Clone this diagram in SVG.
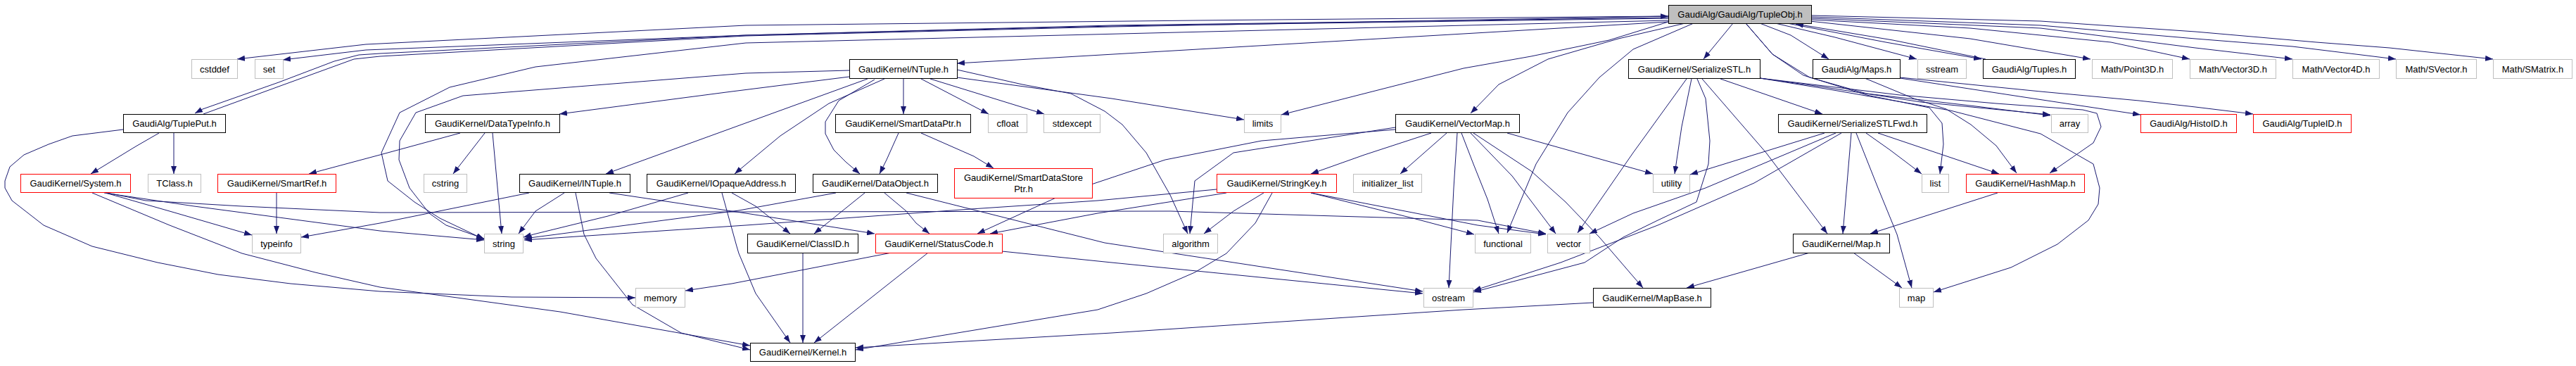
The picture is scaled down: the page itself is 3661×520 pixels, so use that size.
<svg xmlns="http://www.w3.org/2000/svg" width="3661" height="520" viewBox="0 0 3661 520">
<defs>
<marker id="a" viewBox="0 0 11 8" refX="11" refY="4" markerWidth="11" markerHeight="8" markerUnits="userSpaceOnUse" orient="auto"><path d="M0,0L11,4L0,8z" fill="#191970"/></marker>
<style>
.e{fill:none;stroke:#191970;stroke-width:1;marker-end:url(#a)}
.b{fill:#fff;stroke:#000;stroke-width:1}
.g{fill:#fff;stroke:#bfbfbf;stroke-width:1}
.r{fill:#fff;stroke:#f00;stroke-width:1}
.root{fill:#bfbfbf;stroke:#000;stroke-width:1}
text{font-family:"Liberation Sans",Arial,Helvetica,sans-serif;font-size:13px;text-anchor:middle;fill:#000}
</style>
</defs>
<rect x="0" y="0" width="3661" height="520" fill="#fff"/>
<g id="edges">
<path class="e" d="M2371,23 L1700,29 L1060,36 L520,63 L337,84"/>
<path class="e" d="M2371,25 L1580,36 L1060,50 L520,71 L402,85"/>
<path class="e" d="M2371,26 L1580,37 L1060,50 L540,76 L510,78 L475,87 L396,117 L288,155 L277,161"/>
<path class="e" d="M289,162 L393,124 L503,84 L540,80 L1060,51 L1580,38 L2371,23"/>
<path class="e" d="M2371,29 L1060,61 L761,95 L639,124 L568,160 L542,217 L551,257 L589,287 L625,310 L688,340"/>
<path class="e" d="M2371,31 L1360,90"/>
<path class="e" d="M2371,31 L2287,57 L2176,80 L2080,97 L1821,163"/>
<path class="e" d="M2395,33 L2300,55 L2200,84 L2130,120 L2090,161"/>
<path class="e" d="M2407,33 L2321,70 L2273,110 L2228,160 L2183,233 L2142,331"/>
<path class="e" d="M2463,33 L2421,84"/>
<path class="e" d="M2501,33 L2545,50 L2599,84"/>
<path class="e" d="M2523,33 L2608,53 L2724,84"/>
<path class="e" d="M2540,33 L2680,60 L2816,84"/>
<path class="e" d="M2822,84 L2690,57 L2552,34"/>
<path class="e" d="M2572,30 L2800,55 L2971,84"/>
<path class="e" d="M2574,28 L2800,40 L3000,60 L3112,84"/>
<path class="e" d="M2574,26 L2900,40 L3120,68 L3258,84"/>
<path class="e" d="M2574,24 L2900,36 L3120,55 L3258,66 L3405,84"/>
<path class="e" d="M2574,22 L2900,30 L3120,45 L3292,60 L3396,68 L3543,84"/>
<path class="e" d="M2481,33 L2519,77 L2563,107 L2653,135 L2742,153 L2760,175 L2762,205 L2757,247"/>
<path class="e" d="M2481,33 L2519,77 L2572,110 L2653,133 L2800,150 L2914,164"/>
<path class="e" d="M2501,111 L2587,123 L2730,145 L2914,163"/>
<path class="e" d="M2501,111 L2700,135 L2837,147 L2960,156 L2980,161 L2986,180 L2975,203 L2913,246"/>
<path class="e" d="M2501,111 L2600,127 L2772,157 L2900,190 L2975,233 L2984,267 L2982,290 L2968,313 L2924,347 L2858,380 L2748,415"/>
<path class="e" d="M2650,111 L2720,140 L2766,155 L2801,177 L2837,207 L2866,246"/>
<path class="e" d="M2700,111 L2870,137 L3042,163"/>
<path class="e" d="M2700,110 L2900,130 L3040,143 L3120,152 L3202,162"/>
<path class="e" d="M2445,112 L2590,162"/>
<path class="e" d="M2397,112 L2321,217 L2242,331"/>
<path class="e" d="M2404,112 L2390,180 L2380,247"/>
<path class="e" d="M2412,112 L2424,140 L2430,200 L2428,233 L2411,287 L2356,313 L2307,337 L2252,373 L2094,415"/>
<path class="e" d="M2419,112 L2510,217 L2597,332"/>
<path class="e" d="M2593,189 L2402,248"/>
<path class="e" d="M2609,189 L2424,267 L2321,303 L2259,332"/>
<path class="e" d="M2617,189 L2493,260 L2356,320 L2218,373 L2094,413"/>
<path class="e" d="M2631,189 L2619,332"/>
<path class="e" d="M2638,189 L2669,267 L2696,333 L2717,409"/>
<path class="e" d="M2652,189 L2686,213 L2731,247"/>
<path class="e" d="M2669,189 L2841,247"/>
<path class="e" d="M2839,274 L2658,332"/>
<path class="e" d="M2634,359 L2703,409"/>
<path class="e" d="M2572,359 L2397,409"/>
<path class="e" d="M2264,430 L2080,440 L1580,473 L1216,494"/>
<path class="e" d="M2034,189 L1939,220 L1863,247"/>
<path class="e" d="M2056,189 L1990,247"/>
<path class="e" d="M2071,189 L2066,267 L2059,409"/>
<path class="e" d="M2077,189 L2094,233 L2114,283 L2130,332"/>
<path class="e" d="M2090,189 L2149,250 L2211,332"/>
<path class="e" d="M2094,189 L2176,243 L2225,287 L2273,337 L2304,373 L2335,409"/>
<path class="e" d="M2142,189 L2349,247"/>
<path class="e" d="M1983,181 L1753,217 L1698,257 L1691,332"/>
<path class="e" d="M1983,184 L1793,200 L1656,227 L1518,273 L1389,332"/>
<path class="e" d="M1729,269 L1560,285 L1380,297 L1060,320 L745,341"/>
<path class="e" d="M1743,274 L1560,303 L1407,332"/>
<path class="e" d="M1796,274 L1753,300 L1711,332"/>
<path class="e" d="M1808,274 L1784,317 L1743,360 L1698,387 L1629,417 L1560,440 L1216,497"/>
<path class="e" d="M1863,274 L2100,320 L2197,333"/>
<path class="e" d="M1863,274 L2008,310 L2095,333"/>
<path class="e" d="M150,274 L241,300 L358,334"/>
<path class="e" d="M148,274 L276,293 L540,328 L688,341"/>
<path class="e" d="M152,274 L207,285 L344,293 L540,302 L1060,301 L1663,300 L2100,313 L2197,332"/>
<path class="e" d="M131,274 L241,320 L344,360 L448,387 L540,408 L796,443 L1066,491"/>
<path class="e" d="M226,189 L193,208 L129,247"/>
<path class="e" d="M247,189 L247,247"/>
<path class="e" d="M175,184 L103,193 L69,205 L34,220 L14,237 L7,257 L7,267 L17,285 L62,320 L131,350 L224,373 L310,390 L413,403 L540,414 L727,422 L903,423"/>
<path class="e" d="M654,189 L540,220 L439,247"/>
<path class="e" d="M393,274 L393,332"/>
<path class="e" d="M689,189 L644,247"/>
<path class="e" d="M700,189 L713,332"/>
<path class="e" d="M752,274 L540,317 L428,337"/>
<path class="e" d="M802,274 L761,300 L737,332"/>
<path class="e" d="M866,274 L1060,303 L1243,332"/>
<path class="e" d="M818,274 L830,333 L847,367 L899,433 L968,473 L1066,497"/>
<path class="e" d="M1207,100 L1060,104 L658,136 L591,160 L568,200 L567,227 L582,267 L610,303 L634,320 L688,339"/>
<path class="e" d="M1207,109 L1040,130 L795,162"/>
<path class="e" d="M1233,112 L1040,182 L861,247"/>
<path class="e" d="M1257,112 L1178,147 L1109,193 L1044,247"/>
<path class="e" d="M1284,112 L1284,162"/>
<path class="e" d="M1309,112 L1405,162"/>
<path class="e" d="M1322,112 L1484,162"/>
<path class="e" d="M1243,113 L1192,143 L1173,173 L1173,190 L1185,213 L1202,230 L1222,247"/>
<path class="e" d="M1360,110 L1580,140 L1768,170"/>
<path class="e" d="M1360,99 L1453,120 L1522,133 L1570,158 L1595,177 L1629,217 L1663,277 L1688,332"/>
<path class="e" d="M1277,189 L1260,227 L1250,247"/>
<path class="e" d="M1309,189 L1384,222 L1412,239"/>
<path class="e" d="M978,274 L864,307 L758,333 L744,337"/>
<path class="e" d="M1040,274 L1074,293 L1123,332"/>
<path class="e" d="M1026,274 L1047,350 L1050,360 L1074,417 L1123,487"/>
<path class="e" d="M1229,274 L1188,307 L1157,332"/>
<path class="e" d="M1257,274 L1288,300 L1302,317 L1321,332"/>
<path class="e" d="M1188,274 L1050,299 L745,339"/>
<path class="e" d="M1288,274 L1570,345 L2022,414"/>
<path class="e" d="M1141,359 L1141,487"/>
<path class="e" d="M1319,359 L1233,427 L1157,487"/>
<path class="e" d="M1424,357 L1580,373 L2022,417"/>
<path class="e" d="M1267,359 L1040,403 L974,413"/>
</g>
<g transform="translate(0.5,0.5)">
<g id="n_tupleobj"><rect class="root" x="2371" y="7" width="203" height="26"/><text x="2472.5" y="24.5">GaudiAlg/GaudiAlg/TupleObj.h</text></g>
<g id="n_cstddef"><rect class="g" x="272" y="84" width="65" height="27"/><text x="304.5" y="102">cstddef</text></g>
<g id="n_set"><rect class="g" x="362" y="84" width="40" height="27"/><text x="382" y="102">set</text></g>
<g id="n_ntuple"><rect class="b" x="1207" y="84" width="153" height="27"/><text x="1283.5" y="102">GaudiKernel/NTuple.h</text></g>
<g id="n_serializestl"><rect class="b" x="2314" y="84" width="187" height="27"/><text x="2407.5" y="102">GaudiKernel/SerializeSTL.h</text></g>
<g id="n_maps"><rect class="b" x="2576" y="84" width="124" height="27"/><text x="2638" y="102">GaudiAlg/Maps.h</text></g>
<g id="n_sstream"><rect class="g" x="2725" y="84" width="69" height="27"/><text x="2759.5" y="102">sstream</text></g>
<g id="n_tuples"><rect class="b" x="2818" y="84" width="131" height="27"/><text x="2883.5" y="102">GaudiAlg/Tuples.h</text></g>
<g id="n_point3d"><rect class="g" x="2973" y="84" width="114" height="27"/><text x="3030" y="102">Math/Point3D.h</text></g>
<g id="n_vector3d"><rect class="g" x="3112" y="84" width="122" height="27"/><text x="3173" y="102">Math/Vector3D.h</text></g>
<g id="n_vector4d"><rect class="g" x="3258" y="84" width="123" height="27"/><text x="3319.5" y="102">Math/Vector4D.h</text></g>
<g id="n_svector"><rect class="g" x="3405" y="84" width="114" height="27"/><text x="3462" y="102">Math/SVector.h</text></g>
<g id="n_smatrix"><rect class="g" x="3543" y="84" width="112" height="27"/><text x="3599" y="102">Math/SMatrix.h</text></g>
<g id="n_tupleput"><rect class="b" x="175" y="162" width="145" height="26"/><text x="247.5" y="179.5">GaudiAlg/TuplePut.h</text></g>
<g id="n_datatypeinfo"><rect class="b" x="604" y="162" width="191" height="26"/><text x="699.5" y="179.5">GaudiKernel/DataTypeInfo.h</text></g>
<g id="n_smartdataptr"><rect class="b" x="1187" y="162" width="192" height="26"/><text x="1283" y="179.5">GaudiKernel/SmartDataPtr.h</text></g>
<g id="n_cfloat"><rect class="g" x="1404" y="162" width="55" height="26"/><text x="1431.5" y="179.5">cfloat</text></g>
<g id="n_stdexcept"><rect class="g" x="1483" y="162" width="80" height="26"/><text x="1523" y="179.5">stdexcept</text></g>
<g id="n_limits"><rect class="g" x="1768" y="162" width="52" height="26"/><text x="1794" y="179.5">limits</text></g>
<g id="n_vectormap"><rect class="b" x="1983" y="162" width="176" height="26"/><text x="2071" y="179.5">GaudiKernel/VectorMap.h</text></g>
<g id="n_serializestlfwd"><rect class="b" x="2527" y="162" width="211" height="26"/><text x="2632.5" y="179.5">GaudiKernel/SerializeSTLFwd.h</text></g>
<g id="n_array"><rect class="g" x="2915" y="162" width="52" height="26"/><text x="2941" y="179.5">array</text></g>
<g id="n_histoid"><rect class="r" x="3042" y="162" width="136" height="26"/><text x="3110" y="179.5">GaudiAlg/HistoID.h</text></g>
<g id="n_tupleid"><rect class="r" x="3202" y="162" width="139" height="26"/><text x="3271.5" y="179.5">GaudiAlg/TupleID.h</text></g>
<g id="n_system"><rect class="r" x="29" y="247" width="156" height="26"/><text x="107" y="264.5">GaudiKernel/System.h</text></g>
<g id="n_tclass"><rect class="g" x="210" y="247" width="75" height="26"/><text x="247.5" y="264.5">TClass.h</text></g>
<g id="n_smartref"><rect class="r" x="309" y="247" width="168" height="26"/><text x="393" y="264.5">GaudiKernel/SmartRef.h</text></g>
<g id="n_cstring"><rect class="g" x="602" y="247" width="61" height="26"/><text x="632.5" y="264.5">cstring</text></g>
<g id="n_intuple"><rect class="b" x="738" y="247" width="157" height="26"/><text x="816.5" y="264.5">GaudiKernel/INTuple.h</text></g>
<g id="n_iopaqueaddress"><rect class="b" x="919" y="247" width="211" height="26"/><text x="1024.5" y="264.5">GaudiKernel/IOpaqueAddress.h</text></g>
<g id="n_dataobject"><rect class="b" x="1155" y="247" width="177" height="26"/><text x="1243.5" y="264.5">GaudiKernel/DataObject.h</text></g>
<g id="n_smartdatastoreptr"><rect class="r" x="1356" y="239" width="196" height="42"/><text x="1454" y="256">GaudiKernel/SmartDataStore</text><text x="1454" y="272">Ptr.h</text></g>
<g id="n_stringkey"><rect class="r" x="1729" y="247" width="170" height="26"/><text x="1814" y="264.5">GaudiKernel/StringKey.h</text></g>
<g id="n_initializer_list"><rect class="g" x="1923" y="247" width="97" height="26"/><text x="1971.5" y="264.5">initializer_list</text></g>
<g id="n_utility"><rect class="g" x="2349" y="247" width="52" height="26"/><text x="2375" y="264.5">utility</text></g>
<g id="n_list"><rect class="g" x="2731" y="247" width="38" height="26"/><text x="2750" y="264.5">list</text></g>
<g id="n_hashmap"><rect class="r" x="2794" y="247" width="168" height="26"/><text x="2878" y="264.5">GaudiKernel/HashMap.h</text></g>
<g id="n_typeinfo"><rect class="g" x="358" y="332" width="69" height="27"/><text x="392.5" y="350">typeinfo</text></g>
<g id="n_string"><rect class="g" x="688" y="332" width="55" height="27"/><text x="715.5" y="350">string</text></g>
<g id="n_classid"><rect class="b" x="1062" y="332" width="157" height="27"/><text x="1140.5" y="350">GaudiKernel/ClassID.h</text></g>
<g id="n_statuscode"><rect class="r" x="1244" y="332" width="180" height="27"/><text x="1334" y="350">GaudiKernel/StatusCode.h</text></g>
<g id="n_algorithm"><rect class="g" x="1653" y="332" width="77" height="27"/><text x="1691.5" y="350">algorithm</text></g>
<g id="n_functional"><rect class="g" x="2096" y="332" width="79" height="27"/><text x="2135.5" y="350">functional</text></g>
<g id="n_vector"><rect class="g" x="2199" y="332" width="60" height="27"/><text x="2229" y="350">vector</text></g>
<g id="n_map_h"><rect class="b" x="2548" y="332" width="137" height="27"/><text x="2616.5" y="350">GaudiKernel/Map.h</text></g>
<g id="n_memory"><rect class="g" x="903" y="409" width="70" height="27"/><text x="938" y="427">memory</text></g>
<g id="n_ostream"><rect class="g" x="2023" y="409" width="70" height="27"/><text x="2058" y="427">ostream</text></g>
<g id="n_mapbase"><rect class="b" x="2264" y="409" width="167" height="27"/><text x="2347.5" y="427">GaudiKernel/MapBase.h</text></g>
<g id="n_map"><rect class="g" x="2699" y="409" width="48" height="27"/><text x="2723" y="427">map</text></g>
<g id="n_kernel"><rect class="b" x="1066" y="487" width="149" height="26"/><text x="1140.5" y="504.5">GaudiKernel/Kernel.h</text></g>
</g>
</svg>
